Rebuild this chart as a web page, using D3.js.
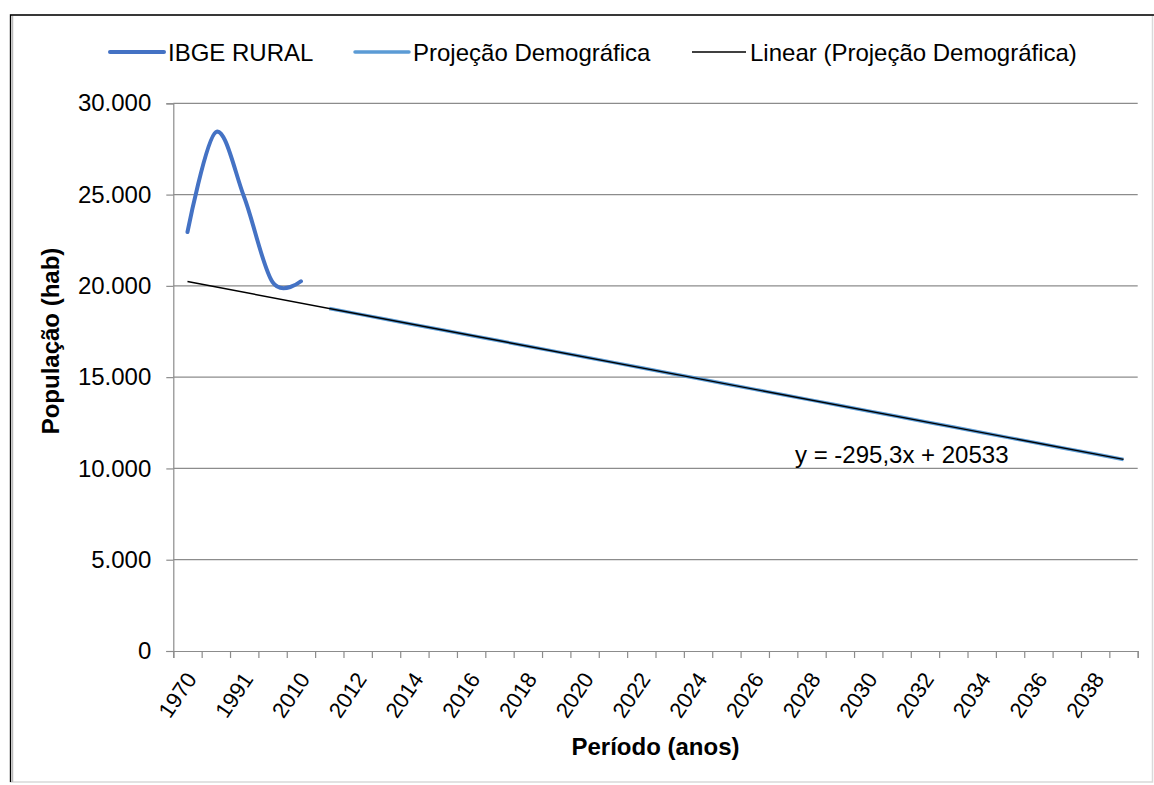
<!DOCTYPE html>
<html lang="pt">
<head>
<meta charset="utf-8">
<title>População rural - projeção</title>
<script src="https://cdn.jsdelivr.net/npm/d3@7/dist/d3.min.js"></script>
<style>
  body { margin: 0; background: #fff; }
  svg text { font-family: "Liberation Sans", Arial, sans-serif; fill: #000; }
</style>
</head>
<body>
<svg id="chart" width="1154" height="785"></svg>
<script>
// categorias do eixo x (anos)
var years = ["1970", "1980", "1991", "2000", "2010", "2011", "2012", "2013", "2014", "2015",
             "2016", "2017", "2018", "2019", "2020", "2021", "2022", "2023", "2024", "2025",
             "2026", "2027", "2028", "2029", "2030", "2031", "2032", "2033", "2034", "2035",
             "2036", "2037", "2038", "2039"];

// censo IBGE (população rural)
var ibgeYears = ["1970", "1980", "1991", "2000", "2010"];
var ibgeValues = [22950, 28420, 24850, 20200, 20250];

// projeção demográfica 2011-2039
var projYears = years.slice(5);
var projValues = [18761, 18466, 18171, 17875, 17580, 17285, 16989, 16694, 16399, 16104,
                  15808, 15513, 15218, 14922, 14627, 14332, 14036, 13741, 13446, 13151,
                  12855, 12560, 12265, 11969, 11674, 11379, 11083, 10788, 10493];

// linha de tendência (Excel): y = -295,3x + 20533
var trendSlope = -295.3;
var trendIntercept = 20533;

var yTicks = [0, 5000, 10000, 15000, 20000, 25000, 30000];
var legendItems = [
    {label: "IBGE RURAL", color: "#4472C4", width: 4, x: 110},
    {label: "Projeção Demográfica", color: "#5B9BD5", width: 3.5, x: 355},
    {label: "Linear (Projeção Demográfica)", color: "#000", width: 1.3, x: 692}
];

var svg = d3.select("#chart");
var plotLeft = 173.3, plotRight = 1137.7, plotTop = 103.3, plotBottom = 651;
var fontSize = 24;

var ptBR = d3.formatLocale({decimal: ",", thousands: ".", grouping: [3], currency: ["R$", ""]});
var fmt = ptBR.format(",d");

var x = d3.scaleBand().domain(years).range([plotLeft, plotRight]);
var xIdx = d3.scaleLinear().domain([0, years.length]).range([plotLeft, plotRight]);
var y = d3.scaleLinear().domain([0, 30000]).range([plotBottom, plotTop]);
var cx = function(yr) { return x(yr) + x.bandwidth() / 2; };

// moldura
svg.append("rect").attr("x", 10.5).attr("y", 15).attr("width", 1142).attr("height", 767)
    .attr("fill", "none").attr("stroke", "#d9d9d9").attr("stroke-width", 1.5);
svg.append("path").attr("d", "M10.5,782 V15 H1154").attr("fill", "none")
    .attr("stroke", "#000").attr("stroke-width", 1.3);
svg.append("line").attr("x1", 12.5).attr("x2", 12.5).attr("y1", 16).attr("y2", 782)
    .attr("stroke", "#bbb").attr("stroke-width", 1.5);

// grade horizontal
svg.append("g").selectAll("line").data(yTicks.slice(1)).enter().append("line")
    .attr("x1", plotLeft).attr("x2", plotRight)
    .attr("y1", function(d) { return y(d); }).attr("y2", function(d) { return y(d); })
    .attr("stroke", "#8c8c8c").attr("stroke-width", 1.2);

// eixo y
var yAxis = svg.append("g").attr("transform", "translate(" + plotLeft + ",0)")
    .call(d3.axisLeft(y).tickValues(yTicks).tickSize(7).tickPadding(15).tickFormat(fmt));
yAxis.select(".domain").attr("stroke", "#8c8c8c").attr("stroke-width", 1.2);
yAxis.selectAll(".tick line").attr("stroke", "#8c8c8c").attr("stroke-width", 1.2);
yAxis.selectAll("text").attr("font-size", fontSize).style("font-family", "'Liberation Sans', Arial, sans-serif");

// eixo x: marcas nas fronteiras das categorias
var xAxis = svg.append("g").attr("transform", "translate(0," + plotBottom + ")")
    .call(d3.axisBottom(xIdx).tickValues(d3.range(years.length + 1)).tickSize(7).tickFormat(""));
xAxis.select(".domain").attr("stroke", "#8c8c8c").attr("stroke-width", 1.2);
xAxis.selectAll(".tick line").attr("stroke", "#8c8c8c").attr("stroke-width", 1.2);

// rótulos do eixo x (um a cada duas categorias)
svg.append("g").selectAll("text")
    .data(years.filter(function(d, i) { return i % 2 === 0; }))
    .enter().append("text")
    .attr("transform", function(d) { return "translate(" + (cx(d) + 10) + "," + (plotBottom + 28) + ") rotate(-56)"; })
    .attr("text-anchor", "end")
    .attr("font-size", 22)
    .text(function(d) { return d; });

// títulos dos eixos
svg.append("text").attr("x", (plotLeft + plotRight) / 2).attr("y", 755)
    .attr("text-anchor", "middle").attr("font-size", fontSize).attr("font-weight", "bold")
    .text("Período (anos)");
svg.append("text").attr("transform", "translate(59,341) rotate(-90)")
    .attr("text-anchor", "middle").attr("font-size", fontSize).attr("font-weight", "bold")
    .text("População (hab)");

// séries
var line = d3.line().x(function(d) { return cx(d[0]); }).y(function(d) { return y(d[1]); });

svg.append("path")
    .datum(d3.zip(projYears, projValues))
    .attr("d", line)
    .attr("fill", "none").attr("stroke", "#5B9BD5").attr("stroke-width", 3.5);

svg.append("path")
    .datum(d3.zip(ibgeYears, ibgeValues))
    .attr("d", line.curve(d3.curveCardinal.tension(0)))
    .attr("fill", "none").attr("stroke", "#4472C4").attr("stroke-width", 4)
    .attr("stroke-linecap", "round");

var trendPts = [years[0], years[years.length - 1]].map(function(yr) {
    var i = years.indexOf(yr) + 1;
    return [yr, trendSlope * i + trendIntercept];
});
svg.append("path")
    .datum(trendPts)
    .attr("d", d3.line().x(function(d) { return cx(d[0]); }).y(function(d) { return y(d[1]); }))
    .attr("fill", "none").attr("stroke", "#000").attr("stroke-width", 1.4);

svg.append("text").attr("x", 795).attr("y", 463).attr("font-size", fontSize)
    .text("y = -295,3x + 20533");

// legenda
var leg = svg.append("g").selectAll("g").data(legendItems).enter().append("g");
leg.append("line")
    .attr("x1", function(d) { return d.x; }).attr("x2", function(d) { return d.x + 54; })
    .attr("y1", 52).attr("y2", 52)
    .attr("stroke", function(d) { return d.color; })
    .attr("stroke-width", function(d) { return d.width; })
    .attr("stroke-linecap", function(d) { return d.width > 2 ? "round" : "butt"; });
leg.append("text")
    .attr("x", function(d) { return d.x + 58; }).attr("y", 60.5)
    .attr("font-size", fontSize)
    .text(function(d) { return d.label; });
</script>
</body>
</html>
